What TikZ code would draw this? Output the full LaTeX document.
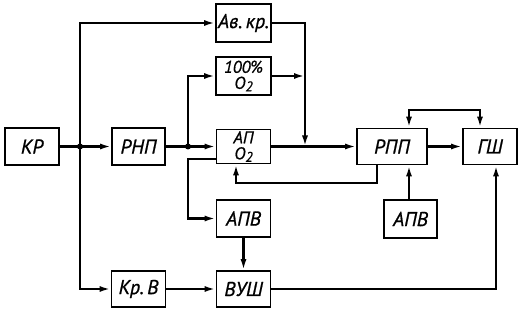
\documentclass[tikz,border=0pt]{standalone}
\usepackage{fontspec}
\setmainfont{PT Sans}[ItalicFeatures={FakeBold=0.8}]
\usetikzlibrary{arrows.meta}
\newcommand{\Otwo}{O\raisebox{-2.5pt}{\fontsize{14}{14}\selectfont 2}}
\begin{document}
\begin{tikzpicture}[x=1pt,y=-1pt,
  blk/.style={draw,line width=1.6pt,minimum width=54pt,minimum height=37pt,inner sep=1pt,align=center,font=\itshape\fontsize{20}{16}\selectfont},
  two/.style={font=\itshape\fontsize{17}{16}\selectfont},
  con/.style={line width=2.6pt,-{Latex[length=11pt,width=6pt]}},
  dot/.style={circle,fill,inner sep=0pt,minimum size=6pt}]
\useasboundingbox (0,0) rectangle (520,312);
\node[blk] (kr) at (32,146.5) {КР};
\node[blk,minimum width=53pt] (rnp) at (138.5,146.5) {РНП};
\node[blk,minimum width=55pt,minimum height=38pt] (avkr) at (243.5,23) {Ав.\,кр.};
\node[blk,two,minimum width=55pt,minimum height=38pt] (oo) at (243.5,76) {100\%\\\Otwo};
\node[blk,two,minimum width=54pt,minimum height=34pt] (ap) at (243.5,146.5) {АП\\\Otwo};
\node[blk] (apv) at (243.5,218.5) {АПВ};
\node[blk,minimum height=36pt] (vush) at (243.5,289) {ВУШ};
\node[blk,minimum height=36pt] (krv) at (138.5,289) {Кр.\,В};
\node[blk,minimum width=70pt,minimum height=36pt] (rpp) at (392,146.5) {РПП};
\node[blk,minimum height=36pt] (gsh) at (490,146.5) {ГШ};
\node[blk,minimum width=53pt,minimum height=38pt] (apvr) at (410.5,219) {АПВ};
\coordinate (j1) at (80,146.5);
\coordinate (j2) at (188,146.5);
\coordinate (c1) at (188,159);
\coordinate (m) at (305,146.5);
\coordinate (t1) at (409,110);
\coordinate (t2) at (480,110);
\coordinate (l1) at (377,183);
\coordinate (l2) at (236,183);
\coordinate (r1) at (496,289);
\draw[con] (kr.east) -- (rnp.west);
\node[dot] at (j1) {};
\draw[con] (j1) |- (avkr.west);
\draw[con] (j1) |- (krv.west);
\draw[con] (rnp.east) -- (ap.west);
\node[dot] at (j2) {};
\draw[con] (j2) |- (oo.west);
\draw[con] (c1 -| ap.west) -- (c1) |- (apv.west);
\draw[con] (avkr.east) -| (m);
\draw[con] (oo.east) -- (oo.east -| m);
\draw[con] (ap.east) -- (rpp.west);
\draw[con] (rpp.east) -- (gsh.west);
\draw[line width=2.6pt,{Latex[length=11pt,width=6pt]}-{Latex[length=11pt,width=6pt]}] (rpp.north -| t1) -- (t1) -- (t2) -- (gsh.north -| t2);
\draw[con] (rpp.south -| l1) -- (l1) -- (l2) -- (ap.south -| l2);
\draw[con] (apvr.north -| t1) -- (rpp.south -| t1);
\draw[con] (apv.south) -- (vush.north);
\draw[con] (krv.east) -- (vush.west);
\draw[con] (vush.east) -| (gsh.south -| r1);
\end{tikzpicture}
\end{document}
